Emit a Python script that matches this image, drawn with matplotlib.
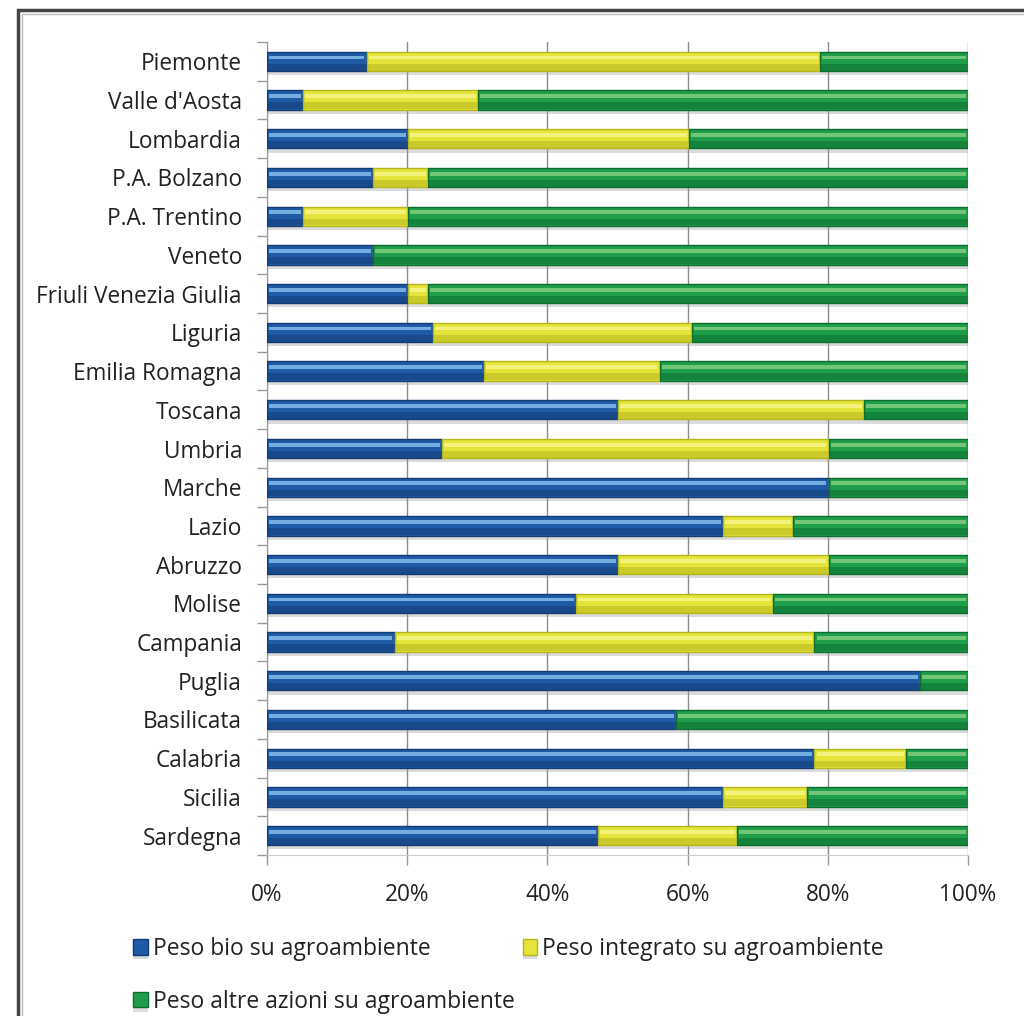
import matplotlib
matplotlib.use("Agg")
import matplotlib.pyplot as plt
import matplotlib.patches as mpatches
import matplotlib.patheffects as pe
import numpy as np

regions = ["Piemonte", "Valle d'Aosta", "Lombardia", "P.A. Bolzano", "P.A. Trentino",
           "Veneto", "Friuli Venezia Giulia", "Liguria", "Emilia Romagna", "Toscana",
           "Umbria", "Marche", "Lazio", "Abruzzo", "Molise", "Campania", "Puglia",
           "Basilicata", "Calabria", "Sicilia", "Sardegna"]
bio = [14.2, 5.1, 20.1, 15.1, 5.1, 15.1, 20.1, 23.7, 31.0, 50.1, 25.0, 80.1,
       65.0, 50.1, 44.1, 18.2, 93.2, 58.3, 78.1, 65.0, 47.2]
integrato = [64.7, 25.0, 40.1, 7.9, 15.0, 0.0, 2.9, 36.9, 25.0, 35.1, 55.1, 0.0,
             10.0, 30.0, 28.1, 59.9, 0.0, 0.0, 13.1, 12.0, 19.9]
altre = [100 - b - i for b, i in zip(bio, integrato)]
series_names = ["Peso bio su agroambiente", "Peso integrato su agroambiente",
                "Peso altre azioni su agroambiente"]
xticks = [0, 20, 40, 60, 80, 100]
xticklabels = ["0%", "20%", "40%", "60%", "80%", "100%"]

plt.rcParams['font.family'] = ['Open Sans', 'DejaVu Sans']
FS = 16.3
LFS = 16.5

# (mid, dark, light)
palette = [("#1f5aa6", "#143c73", "#74addf"),
           ("#e4e43a", "#b5b51e", "#f3f27c"),
           ("#1e9e4a", "#0d6e30", "#74c677")]

fig = plt.figure(figsize=(10.24, 10.16), dpi=100)
ax = fig.add_axes([267/1024, 1 - 855/1016, (968-267)/1024, (855-42)/1016])

# outer frame
fig.patches.append(mpatches.Rectangle((18/1024, -0.2), 1.2, 1.2 - 10/1016,
                                      transform=fig.transFigure, fill=False,
                                      edgecolor="#444444", linewidth=2.5, zorder=0))
fig.patches.append(mpatches.Rectangle((22/1024, -0.2), 1.2, 1.2 - 14/1016,
                                      transform=fig.transFigure, fill=False,
                                      edgecolor="#bbbbbb", linewidth=1, zorder=0))

y = np.arange(len(regions))
h = 0.5
left = np.zeros(len(regions))
shadow = [pe.SimplePatchShadow(offset=(0, -3), shadow_rgbFace="#999999", alpha=0.35), pe.Normal()]
for vals, (mid, dark, light), name in zip([bio, integrato, altre], palette, series_names):
    vals = np.array(vals)
    bars = ax.barh(y, vals, left=left, height=h, color=mid, edgecolor=dark,
                   linewidth=1.0, zorder=3, label=name)
    for b in bars:
        b.set_path_effects(shadow)
    # darker lower band
    ax.barh(y + h*0.3, vals, left=left, height=h*0.35, color=dark, linewidth=0,
            zorder=4, alpha=0.55)
    # highlight band
    ax.barh(y - h*0.2, np.maximum(vals - 0.6, 0), left=left + 0.3, height=h*0.2,
            color=light, linewidth=0, zorder=5)
    left = left + vals

ax.set_xlim(0, 100)
ax.set_ylim(len(regions) - 0.5, -0.5)
ax.set_yticks(y)
ax.set_yticklabels(regions, fontsize=FS, color="#222222")
ax.set_yticks(np.arange(-0.5, len(regions)), minor=True)
ax.tick_params(axis='y', which='major', length=0, pad=18)
ax.tick_params(axis='y', which='minor', length=7, color="#999999", width=1)
ax.set_xticks(xticks)
ax.set_xticklabels(xticklabels, fontsize=FS, color="#222222")
ax.tick_params(axis='x', length=7, color="#999999", width=1, pad=13)
ax.grid(axis='x', color="#8c8c8c", linewidth=1, zorder=0)
ax.set_axisbelow(True)
for s in ["top", "right"]:
    ax.spines[s].set_visible(False)
ax.spines["left"].set_color("#999999")
ax.spines["bottom"].set_color("#cccccc")

handles, labels = ax.get_legend_handles_labels()
order = [0, 2, 1]
leg = fig.legend([handles[i] for i in order], [labels[i] for i in order],
                 loc="upper left", bbox_to_anchor=(124/1024, 1 - 928/1016),
                 ncol=2, fontsize=LFS, frameon=False, handlelength=0.65,
                 handleheight=0.65, handletextpad=0.2, columnspacing=0.35,
                 labelspacing=1.25, borderaxespad=0)
for t in leg.get_texts():
    t.set_color("#222222")

fig.savefig("out.png", dpi=100)
